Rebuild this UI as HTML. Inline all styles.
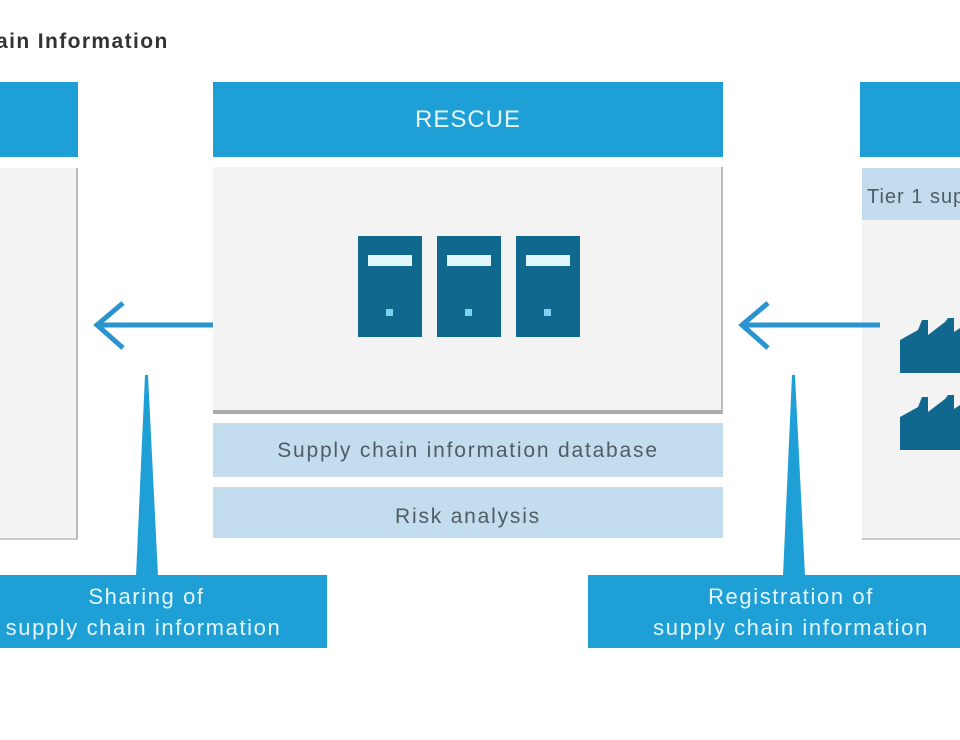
<!DOCTYPE html>
<html><head><meta charset="utf-8"><style>
body{margin:0;width:960px;height:740px;background:#fff;position:relative;overflow:hidden;font-family:"Liberation Sans",sans-serif}
.a{position:absolute}
.blue{background:#1e9fd6;color:#e6f6fd}
.gray{background:#f3f3f3}
.lb{background:#c3ddee;color:#4f5c66;font-size:21px;letter-spacing:1.8px;text-align:center;white-space:nowrap}
.srv{position:absolute;top:236px;width:64px;height:101px;background:#11688f}
.srv::before{content:"";position:absolute;left:10px;top:19px;width:44px;height:11px;background:#dff6fd}
.srv::after{content:"";position:absolute;left:28px;top:73px;width:7px;height:7px;background:#7fd0ef}
.lab{font-size:22px;letter-spacing:1.6px;line-height:31px;text-align:center;padding-top:6px;box-sizing:border-box;white-space:nowrap}
</style></head><body>
<div class="a" style="left:-4px;top:30px;font-size:21px;letter-spacing:1.4px;font-weight:bold;color:#333">ain Information</div>

<div class="a blue" style="left:0;top:82px;width:78px;height:75px"></div>
<div class="a gray" style="left:0;top:168px;width:76px;height:370px;border-right:2px solid #bbb;border-bottom:2px solid #ccc"></div>

<div class="a blue" style="left:213px;top:82px;width:510px;height:75px;line-height:75px;text-align:center;font-size:24px;letter-spacing:1px">RESCUE</div>
<div class="a gray" style="left:213px;top:167px;width:508px;height:243px;border-right:2px solid #bbb;border-bottom:4px solid #aaa"></div>
<div class="srv" style="left:358px"></div>
<div class="srv" style="left:437px"></div>
<div class="srv" style="left:516px"></div>
<div class="a lb" style="left:213px;top:423px;width:510px;height:54px;line-height:56px">Supply chain information database</div>
<div class="a lb" style="left:213px;top:487px;width:510px;height:51px;line-height:60px">Risk analysis</div>

<div class="a blue" style="left:860px;top:82px;width:100px;height:75px"></div>
<div class="a gray" style="left:862px;top:168px;width:98px;height:370px;border-bottom:2px solid #ccc"></div>
<div class="a lb" style="left:862px;top:168px;width:98px;height:52px;line-height:58px;text-align:left;text-indent:5px;font-size:20px;letter-spacing:1px;overflow:hidden">Tier 1 supplier</div>

<svg class="a" style="left:0;top:0" width="960" height="740">
<g fill="#11688f">
<polygon points="900,373 900,340 918,330 922,320 928,320 928,335 945,322 948,318 954,318 954,332 960,328 960,373"/>
<polygon points="900,450 900,417 918,407 922,397 928,397 928,412 945,399 948,395 954,395 954,409 960,405 960,450"/>
</g>
<g stroke="#2b94cf" stroke-width="5" fill="none" stroke-linecap="butt">
<line x1="97" y1="325" x2="213" y2="325"/>
<polyline points="123,303 97,325 123,348"/>
<line x1="742" y1="325" x2="880" y2="325"/>
<polyline points="768,303 742,325 768,348"/>
</g>
<polygon points="145,375 148,375 158,576 136,576" fill="#1e9fd6"/>
<polygon points="792,375 795,375 805,576 783,576" fill="#1e9fd6"/>
</svg>

<div class="a blue lab" style="left:0;top:575px;width:327px;height:73px">
<div style="position:relative;left:-17px">Sharing of</div><div style="position:relative;left:-20px">supply chain information</div></div>
<div class="a blue lab" style="left:588px;top:575px;width:372px;height:73px">
<div style="position:relative;left:17px">Registration of</div><div style="position:relative;left:17px">supply chain information</div></div>
</body></html>
